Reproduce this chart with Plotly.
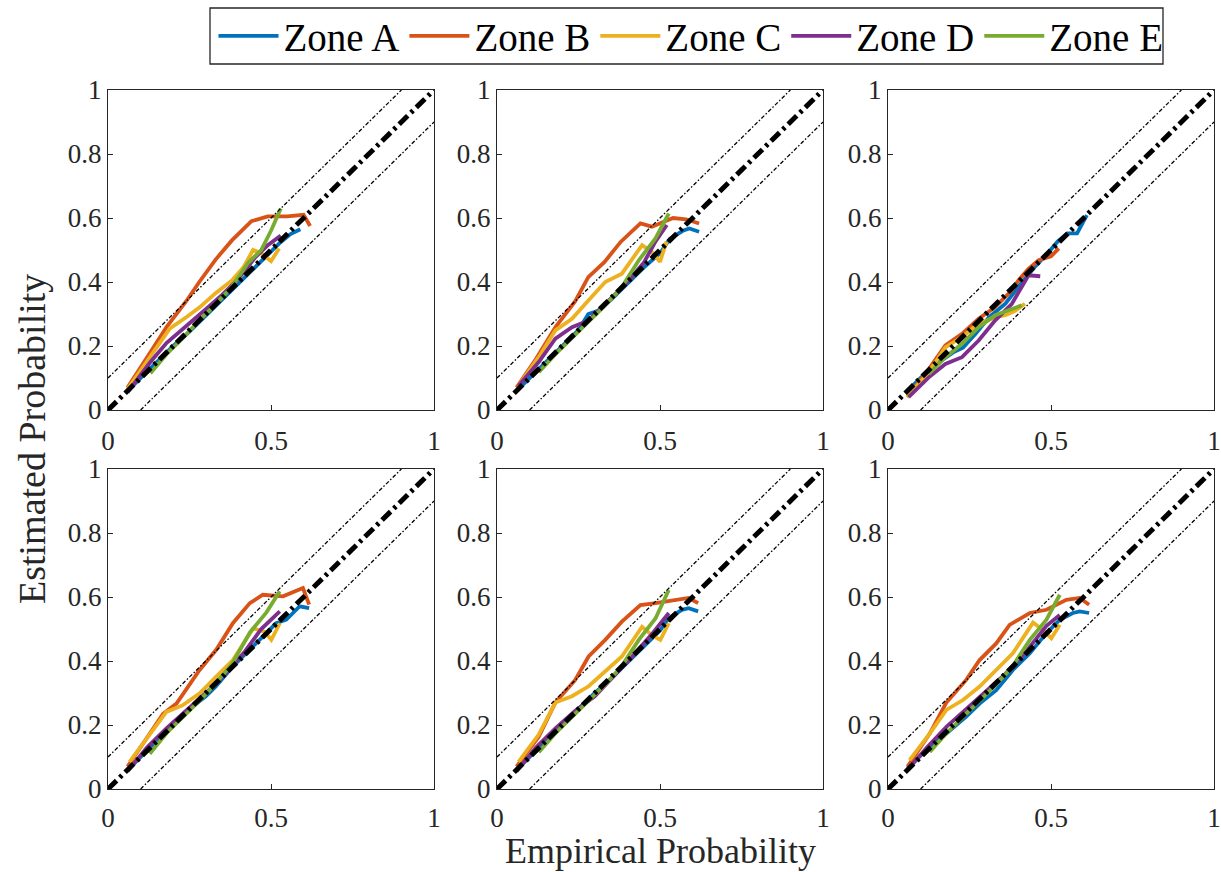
import plotly.graph_objects as go

# ---------------- data ----------------
zones = ["Zone A", "Zone B", "Zone C", "Zone D", "Zone E"]
zone_colors = ["#0072BD", "#D95319", "#EDB120", "#7E2F8E", "#77AC30"]

# Panel 1 (top-left)
p1_a_x = [0.06, 0.10, 0.15, 0.20, 0.25, 0.30, 0.35, 0.40, 0.45, 0.50, 0.53, 0.56, 0.59]
p1_a_y = [0.06, 0.10, 0.15, 0.20, 0.245, 0.295, 0.345, 0.395, 0.445, 0.495, 0.525, 0.55, 0.565]
p1_b_x = [0.06, 0.10, 0.13, 0.18, 0.24, 0.28, 0.33, 0.38, 0.44, 0.49, 0.55, 0.60, 0.62]
p1_b_y = [0.07, 0.13, 0.18, 0.26, 0.34, 0.40, 0.47, 0.53, 0.59, 0.605, 0.605, 0.61, 0.575]
p1_c_x = [0.06, 0.13, 0.19, 0.24, 0.28, 0.33, 0.38, 0.415, 0.445, 0.47, 0.50, 0.525]
p1_c_y = [0.065, 0.165, 0.255, 0.29, 0.32, 0.365, 0.405, 0.445, 0.50, 0.49, 0.465, 0.505]
p1_d_x = [0.06, 0.13, 0.18, 0.25, 0.30, 0.35, 0.40, 0.45, 0.49, 0.53]
p1_d_y = [0.055, 0.15, 0.21, 0.27, 0.315, 0.36, 0.41, 0.475, 0.515, 0.545]
p1_e_x = [0.13, 0.18, 0.23, 0.28, 0.33, 0.38, 0.43, 0.47, 0.50, 0.53]
p1_e_y = [0.115, 0.175, 0.225, 0.28, 0.33, 0.385, 0.46, 0.50, 0.56, 0.63]

# Panel 2 (top-middle)
p2_a_x = [0.06, 0.10, 0.15, 0.20, 0.25, 0.28, 0.31, 0.35, 0.40, 0.45, 0.50, 0.53, 0.57, 0.59, 0.62]
p2_a_y = [0.06, 0.10, 0.15, 0.20, 0.25, 0.30, 0.31, 0.345, 0.395, 0.445, 0.49, 0.535, 0.56, 0.567, 0.557]
p2_b_x = [0.06, 0.12, 0.18, 0.24, 0.28, 0.33, 0.38, 0.44, 0.475, 0.54, 0.58, 0.62]
p2_b_y = [0.07, 0.16, 0.26, 0.34, 0.415, 0.463, 0.526, 0.583, 0.573, 0.60, 0.596, 0.583]
p2_c_x = [0.066, 0.128, 0.179, 0.23, 0.281, 0.332, 0.383, 0.445, 0.475, 0.50, 0.52]
p2_c_y = [0.076, 0.165, 0.249, 0.285, 0.343, 0.40, 0.426, 0.515, 0.494, 0.463, 0.526]
p2_d_x = [0.066, 0.128, 0.179, 0.23, 0.281, 0.312, 0.35, 0.40, 0.45, 0.486, 0.521]
p2_d_y = [0.076, 0.15, 0.223, 0.259, 0.28, 0.311, 0.35, 0.40, 0.46, 0.526, 0.578]
p2_e_x = [0.128, 0.18, 0.23, 0.28, 0.33, 0.38, 0.435, 0.486, 0.527]
p2_e_y = [0.118, 0.175, 0.225, 0.275, 0.325, 0.38, 0.468, 0.536, 0.614]

# Panel 3 (top-right)
p3_a_x = [0.06, 0.10, 0.15, 0.20, 0.23, 0.27, 0.31, 0.36, 0.40, 0.45, 0.49, 0.52, 0.55, 0.58, 0.61]
p3_a_y = [0.06, 0.10, 0.145, 0.18, 0.195, 0.24, 0.29, 0.332, 0.385, 0.447, 0.49, 0.526, 0.552, 0.552, 0.609]
p3_b_x = [0.06, 0.12, 0.176, 0.227, 0.278, 0.329, 0.38, 0.40, 0.43, 0.462, 0.50, 0.524]
p3_b_y = [0.045, 0.12, 0.202, 0.238, 0.285, 0.322, 0.374, 0.405, 0.44, 0.468, 0.48, 0.505]
p3_c_x = [0.058, 0.125, 0.176, 0.227, 0.278, 0.33, 0.36, 0.39, 0.42]
p3_c_y = [0.04, 0.118, 0.196, 0.228, 0.27, 0.29, 0.296, 0.31, 0.332]
p3_d_x = [0.063, 0.125, 0.176, 0.227, 0.278, 0.329, 0.38, 0.41, 0.431, 0.467]
p3_d_y = [0.04, 0.102, 0.144, 0.165, 0.217, 0.28, 0.332, 0.385, 0.421, 0.418]
p3_e_x = [0.125, 0.176, 0.227, 0.278, 0.329, 0.38, 0.41]
p3_e_y = [0.113, 0.165, 0.207, 0.259, 0.296, 0.317, 0.327]

# Panel 4 (bottom-left)
p4_a_x = [0.06, 0.10, 0.15, 0.20, 0.25, 0.30, 0.33, 0.38, 0.43, 0.475, 0.516, 0.547, 0.588, 0.617]
p4_a_y = [0.06, 0.10, 0.15, 0.20, 0.25, 0.29, 0.32, 0.38, 0.43, 0.477, 0.518, 0.529, 0.571, 0.565]
p4_b_x = [0.06, 0.128, 0.169, 0.21, 0.281, 0.332, 0.383, 0.435, 0.475, 0.537, 0.598, 0.617]
p4_b_y = [0.07, 0.173, 0.235, 0.267, 0.372, 0.435, 0.518, 0.581, 0.607, 0.602, 0.628, 0.576]
p4_c_x = [0.066, 0.128, 0.179, 0.23, 0.281, 0.332, 0.383, 0.445, 0.48, 0.501, 0.527]
p4_c_y = [0.085, 0.173, 0.241, 0.262, 0.299, 0.351, 0.403, 0.502, 0.492, 0.466, 0.518]
p4_d_x = [0.06, 0.12, 0.18, 0.24, 0.30, 0.36, 0.42, 0.47, 0.527]
p4_d_y = [0.055, 0.13, 0.19, 0.245, 0.30, 0.36, 0.43, 0.50, 0.555]
p4_e_x = [0.128, 0.18, 0.23, 0.28, 0.33, 0.38, 0.435, 0.486, 0.527]
p4_e_y = [0.11, 0.175, 0.225, 0.275, 0.33, 0.39, 0.489, 0.552, 0.618]

# Panel 5 (bottom-middle)
p5_a_x = [0.06, 0.10, 0.15, 0.20, 0.25, 0.30, 0.35, 0.40, 0.45, 0.50, 0.527, 0.567, 0.588, 0.617]
p5_a_y = [0.06, 0.10, 0.15, 0.20, 0.25, 0.30, 0.345, 0.395, 0.445, 0.495, 0.534, 0.56, 0.565, 0.555]
p5_b_x = [0.06, 0.128, 0.179, 0.24, 0.281, 0.332, 0.383, 0.44, 0.486, 0.547, 0.588, 0.617]
p5_b_y = [0.07, 0.163, 0.27, 0.341, 0.414, 0.466, 0.523, 0.575, 0.581, 0.591, 0.597, 0.581]
p5_c_x = [0.066, 0.128, 0.179, 0.23, 0.281, 0.332, 0.383, 0.445, 0.475, 0.501, 0.527]
p5_c_y = [0.085, 0.17, 0.27, 0.29, 0.321, 0.367, 0.414, 0.507, 0.481, 0.466, 0.518]
p5_d_x = [0.06, 0.12, 0.18, 0.24, 0.30, 0.36, 0.42, 0.48, 0.527]
p5_d_y = [0.055, 0.13, 0.19, 0.245, 0.29, 0.355, 0.42, 0.49, 0.55]
p5_e_x = [0.128, 0.18, 0.23, 0.28, 0.33, 0.38, 0.435, 0.486, 0.527]
p5_e_y = [0.115, 0.175, 0.225, 0.275, 0.325, 0.38, 0.466, 0.533, 0.622]

# Panel 6 (bottom-right)
p6_a_x = [0.06, 0.128, 0.179, 0.24, 0.281, 0.332, 0.383, 0.435, 0.486, 0.527, 0.567, 0.588, 0.617]
p6_a_y = [0.065, 0.132, 0.173, 0.226, 0.267, 0.309, 0.372, 0.424, 0.487, 0.529, 0.55, 0.555, 0.55]
p6_b_x = [0.06, 0.128, 0.179, 0.24, 0.281, 0.332, 0.373, 0.435, 0.486, 0.547, 0.588, 0.617]
p6_b_y = [0.07, 0.173, 0.27, 0.341, 0.403, 0.455, 0.513, 0.55, 0.56, 0.591, 0.597, 0.576]
p6_c_x = [0.066, 0.128, 0.179, 0.23, 0.281, 0.332, 0.383, 0.445, 0.475, 0.501, 0.527]
p6_c_y = [0.09, 0.173, 0.247, 0.278, 0.32, 0.372, 0.424, 0.52, 0.497, 0.471, 0.513]
p6_d_x = [0.06, 0.12, 0.18, 0.24, 0.30, 0.36, 0.42, 0.486, 0.527]
p6_d_y = [0.06, 0.13, 0.195, 0.25, 0.305, 0.36, 0.425, 0.51, 0.544]
p6_e_x = [0.128, 0.18, 0.23, 0.28, 0.33, 0.38, 0.435, 0.486, 0.527]
p6_e_y = [0.116, 0.175, 0.225, 0.275, 0.325, 0.38, 0.466, 0.529, 0.607]

# reference lines: perfect calibration and +/-0.1 bands
diag_x = [0, 1]
diag_y = [0, 1]
upper_x = [0, 0.9]
upper_y = [0.1, 1.0]
lower_x = [0.1, 1.0]
lower_y = [0, 0.9]

x_tickvals = [0, 0.5, 1]
x_ticktext = ["0", "0.5", "1"]
y_tickvals = [0, 0.2, 0.4, 0.6, 0.8, 1]
y_ticktext = ["0", "0.2", "0.4", "0.6", "0.8", "1"]

x_label = "Empirical Probability"
y_label = "Estimated Probability"

panels = [
    [(p1_a_x, p1_a_y), (p1_b_x, p1_b_y), (p1_c_x, p1_c_y), (p1_d_x, p1_d_y), (p1_e_x, p1_e_y)],
    [(p2_a_x, p2_a_y), (p2_b_x, p2_b_y), (p2_c_x, p2_c_y), (p2_d_x, p2_d_y), (p2_e_x, p2_e_y)],
    [(p3_a_x, p3_a_y), (p3_b_x, p3_b_y), (p3_c_x, p3_c_y), (p3_d_x, p3_d_y), (p3_e_x, p3_e_y)],
    [(p4_a_x, p4_a_y), (p4_b_x, p4_b_y), (p4_c_x, p4_c_y), (p4_d_x, p4_d_y), (p4_e_x, p4_e_y)],
    [(p5_a_x, p5_a_y), (p5_b_x, p5_b_y), (p5_c_x, p5_c_y), (p5_d_x, p5_d_y), (p5_e_x, p5_e_y)],
    [(p6_a_x, p6_a_y), (p6_b_x, p6_b_y), (p6_c_x, p6_c_y), (p6_d_x, p6_d_y), (p6_e_x, p6_e_y)],
]

# ---------------- layout geometry ----------------
W, H = 1221, 872
col_px = [(108, 434), (497, 823), (888, 1214)]
row_px = [(90, 410), (469, 789)]

FONT = "Liberation Serif, Times New Roman, serif"
AX_COLOR = "#262626"

fig = go.Figure()

for i, panel in enumerate(panels):
    n = i + 1
    xa = "x" if n == 1 else f"x{n}"
    ya = "y" if n == 1 else f"y{n}"
    for j, (xs, ys) in enumerate(panel):
        fig.add_trace(go.Scatter(
            x=xs, y=ys, mode="lines", name=zones[j],
            line=dict(color=zone_colors[j], width=3.8),
            legendgroup=zones[j], showlegend=(i == 0),
            xaxis=xa, yaxis=ya,
        ))
    for bx, by in ((upper_x, upper_y), (lower_x, lower_y)):
        fig.add_trace(go.Scatter(x=bx, y=by, mode="lines", showlegend=False,
                                 line=dict(color="black", width=1.3, dash="4px,2px,1.5px,2px"),
                                 xaxis=xa, yaxis=ya, hoverinfo="skip"))
    fig.add_trace(go.Scatter(x=diag_x, y=diag_y, mode="lines", showlegend=False,
                             line=dict(color="black", width=5, dash="12px,4.5px,3px,4.5px"),
                             xaxis=xa, yaxis=ya, hoverinfo="skip"))

layout = dict(
    width=W, height=H,
    margin=dict(l=0, r=0, t=0, b=0, autoexpand=False),
    paper_bgcolor="white", plot_bgcolor="white",
    font=dict(family=FONT, color=AX_COLOR, size=27),
    showlegend=True,
    legend=dict(
        orientation="h", x=691 / W, xanchor="center", y=1 - 36 / H, yanchor="middle",
        borderwidth=0, bgcolor="rgba(0,0,0,0)",
        font=dict(family=FONT, size=39, color="black"),
        itemwidth=60, tracegroupgap=0, traceorder="normal", valign="middle",
    ),
    shapes=[dict(type="rect", xref="paper", yref="paper",
                 x0=210 / W, x1=1163 / W, y0=1 - 64 / H, y1=1 - 8 / H,
                 line=dict(color="#262626", width=1.3), fillcolor="rgba(0,0,0,0)",
                 layer="below")],
)

for i in range(6):
    n = i + 1
    r, c = divmod(i, 3)
    x0, x1 = col_px[c]
    y0, y1 = row_px[r]
    xkey = "xaxis" if n == 1 else f"xaxis{n}"
    ykey = "yaxis" if n == 1 else f"yaxis{n}"
    xa_anchor = "y" if n == 1 else f"y{n}"
    ya_anchor = "x" if n == 1 else f"x{n}"
    common = dict(
        range=[0, 1], showgrid=False, zeroline=False,
        showline=True, linecolor=AX_COLOR, linewidth=1.3, mirror=True,
        ticks="inside", ticklen=5, tickwidth=1, tickcolor=AX_COLOR,
        tickfont=dict(family=FONT, size=27, color=AX_COLOR),
        fixedrange=True,
    )
    layout[xkey] = dict(common, domain=[x0 / W, x1 / W], anchor=xa_anchor,
                        tickvals=x_tickvals, ticktext=x_ticktext,
                        ticklabelstandoff=6 if r == 0 else 4)
    layout[ykey] = dict(common, domain=[1 - y1 / H, 1 - y0 / H], anchor=ya_anchor,
                        tickvals=y_tickvals, ticktext=y_ticktext, ticklabelstandoff=0)

layout["annotations"] = [
    dict(text=x_label, x=660 / W, y=1 - 851 / H, xref="paper", yref="paper",
         showarrow=False, font=dict(family=FONT, size=36, color=AX_COLOR),
         xanchor="center", yanchor="middle"),
    dict(text=y_label, x=32 / W, y=1 - 439 / H, xref="paper", yref="paper",
         showarrow=False, textangle=-90, font=dict(family=FONT, size=38, color=AX_COLOR),
         xanchor="center", yanchor="middle"),
]

fig.update_layout(**layout)
fig.write_html(
    "out.html",
    config={"displayModeBar": False},
    post_script="document.body.style.margin='0';document.body.style.overflow='hidden';",
)
